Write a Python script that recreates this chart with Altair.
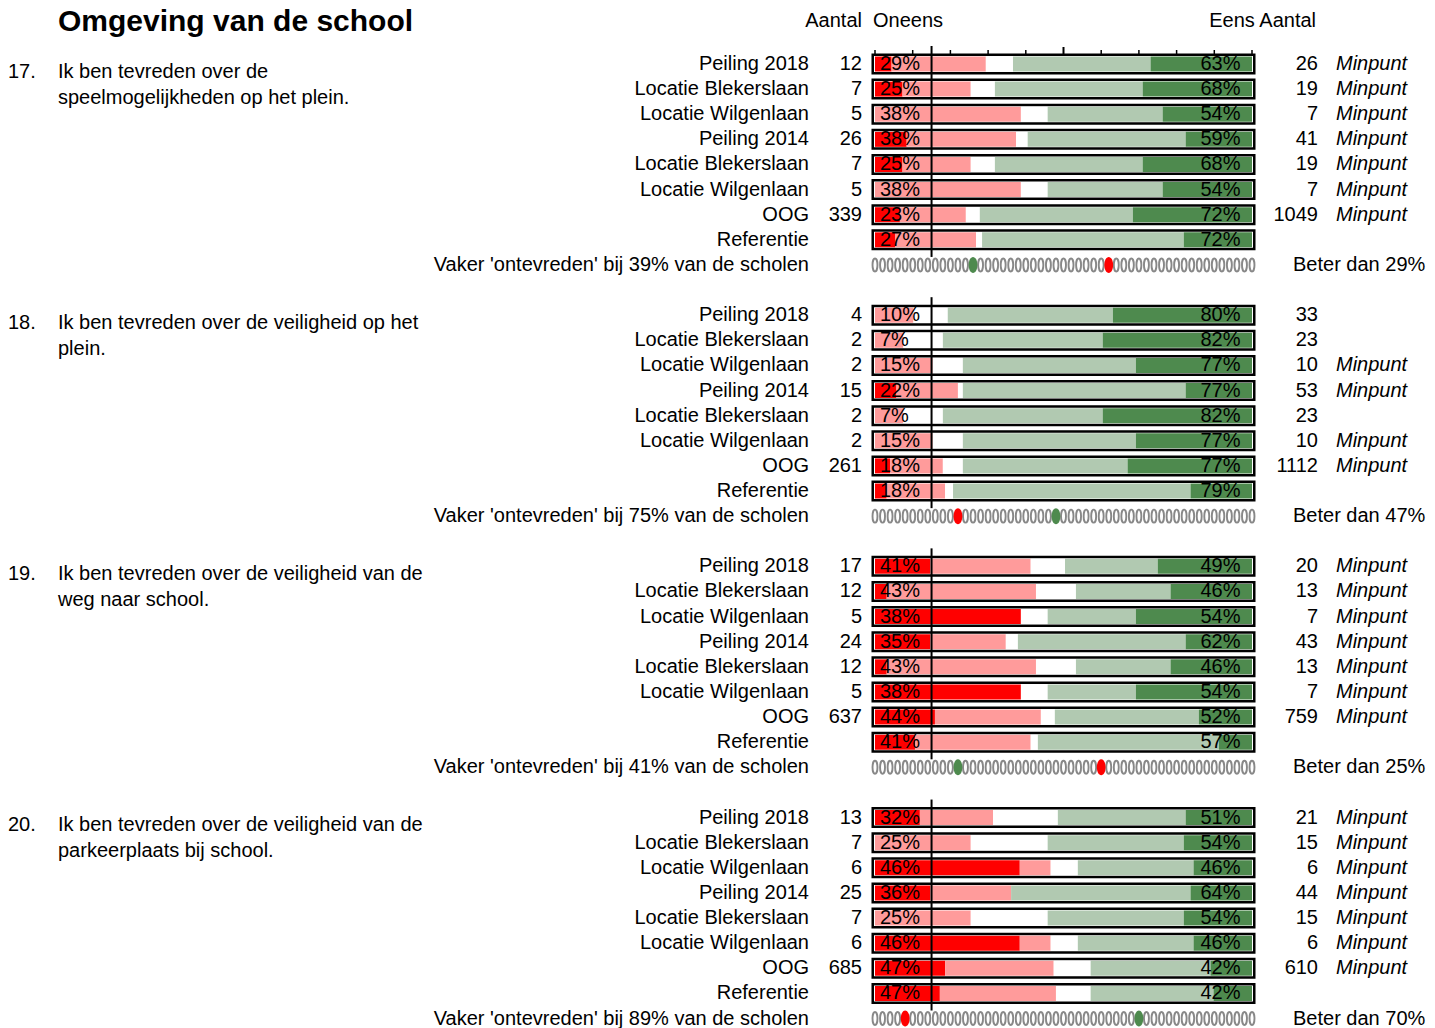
import altair as alt
import pandas as pd

# ---------------- data ----------------
title_text = "Omgeving van de school"
row_labels = ["Peiling 2018", "Locatie Blekerslaan", "Locatie Wilgenlaan", "Peiling 2014",
              "Locatie Blekerslaan", "Locatie Wilgenlaan", "OOG", "Referentie"]
question_numbers = ["17.", "18.", "19.", "20."]
question_line1 = ["Ik ben tevreden over de",
                  "Ik ben tevreden over de veiligheid op het",
                  "Ik ben tevreden over de veiligheid van de",
                  "Ik ben tevreden over de veiligheid van de"]
question_line2 = ["speelmogelijkheden op het plein.",
                  "plein.",
                  "weg naar school.",
                  "parkeerplaats bij school."]

count_oneens = [[12, 7, 5, 26, 7, 5, 339, None],
                [4, 2, 2, 15, 2, 2, 261, None],
                [17, 12, 5, 24, 12, 5, 637, None],
                [13, 7, 6, 25, 7, 6, 685, None]]
count_eens = [[26, 19, 7, 41, 19, 7, 1049, None],
              [33, 23, 10, 53, 23, 10, 1112, None],
              [20, 13, 7, 43, 13, 7, 759, None],
              [21, 15, 6, 44, 15, 6, 610, None]]
minpunt = [[1, 1, 1, 1, 1, 1, 1, 0],
           [0, 0, 1, 1, 0, 1, 1, 0],
           [1, 1, 1, 1, 1, 1, 1, 0],
           [1, 1, 1, 1, 1, 1, 1, 0]]
pct_oneens = [[29, 25, 38, 38, 25, 38, 23, 27],
              [10, 7, 15, 22, 7, 15, 18, 18],
              [41, 43, 38, 35, 43, 38, 44, 41],
              [32, 25, 46, 36, 25, 46, 47, 47]]
pct_eens = [[63, 68, 54, 59, 68, 54, 72, 72],
            [80, 82, 77, 77, 82, 77, 77, 79],
            [49, 46, 54, 62, 46, 54, 52, 57],
            [51, 54, 46, 64, 54, 46, 42, 42]]

seg_names = ["Zeer oneens", "Oneens", "Neutraal", "Eens", "Zeer eens"]
seg_colors = ["#ff0000", "#ff9b9b", "#ffffff", "#b1c9b1", "#4e8a4e"]
zeer_oneens = [[4.4, 7.3, 0, 8.4, 7.3, 0, 6.6, 5.3],
               [0, 0, 0, 5.7, 0, 0, 4.0, 3.1],
               [14.6, 3.1, 38.7, 14.6, 3.1, 38.7, 15.9, 10.6],
               [11.9, 0, 38.4, 14.6, 0, 38.4, 18.6, 17.2]]
oneens = [[25.0, 18.1, 38.7, 29.0, 18.1, 38.7, 17.5, 21.5],
          [10.2, 7.5, 15.3, 16.3, 7.5, 15.3, 14.0, 15.5],
          [26.7, 39.6, 0, 20.1, 39.6, 0, 28.1, 30.7],
          [19.4, 25.4, 8.2, 21.5, 25.4, 8.2, 28.8, 30.8]]
neutraal = [[7.2, 6.4, 7.1, 3.1, 6.4, 7.1, 3.7, 1.6],
            [9.1, 10.5, 8.0, 1.3, 10.5, 8.0, 5.3, 2.1],
            [9.1, 10.6, 7.1, 3.2, 10.6, 7.1, 3.7, 1.9],
            [17.2, 20.4, 7.2, 0, 20.4, 7.2, 9.8, 9.2]]
eens = [[36.5, 39.2, 30.5, 41.9, 39.2, 30.5, 40.6, 53.5],
        [43.8, 42.4, 45.9, 59.1, 42.4, 45.9, 43.7, 63.0],
        [24.6, 25.1, 23.4, 44.5, 25.1, 23.4, 38.2, 48.0],
        [33.9, 36.1, 30.7, 47.6, 36.1, 30.7, 31.8, 32.6]]
zeer_eens = [[26.9, 29.0, 23.7, 17.6, 29.0, 23.7, 31.6, 18.1],
             [36.9, 39.6, 30.8, 17.6, 39.6, 30.8, 33.0, 16.3],
             [25.0, 21.6, 30.8, 17.6, 21.6, 30.8, 14.1, 8.8],
             [17.6, 18.1, 15.5, 16.3, 18.1, 15.5, 11.0, 10.2]]

vaker_pct = [39, 75, 41, 89]
beter_pct = [29, 47, 25, 70]
dot_red_index = [31, 11, 30, 4]
dot_green_index = [13, 24, 11, 35]
n_dots = 51
reference_line_pct = 15
tick_values = [0, 10, 20, 30, 40, 60, 70, 80, 90, 100]
major_tick_values = [50]

# ---------------- tables ----------------
ROWS_PER_PANEL = 10
rows, segs, panels, dots = [], [], [], []
seg_tables = [zeer_oneens, oneens, neutraal, eens, zeer_eens]
for p in range(4):
    g0 = p * ROWS_PER_PANEL
    panels.append(dict(g_first=g0, g_dots=g0 + 8, num=question_numbers[p],
                       line1=question_line1[p], line2=question_line2[p],
                       vaker=f"Vaker 'ontevreden' bij {vaker_pct[p]}% van de scholen",
                       beter=f"Beter dan {beter_pct[p]}%"))
    for r in range(8):
        g = g0 + r
        rows.append(dict(g=g, label=row_labels[r],
                         cl="" if count_oneens[p][r] is None else str(count_oneens[p][r]),
                         cr="" if count_eens[p][r] is None else str(count_eens[p][r]),
                         minpunt="Minpunt" if minpunt[p][r] else "",
                         pl=f"{pct_oneens[p][r]}%", pr=f"{pct_eens[p][r]}%"))
        start = 0.0
        for k, tab in enumerate(seg_tables):
            v = tab[p][r]
            end = start + v if k < 4 else 100.0
            if end > start:
                segs.append(dict(g=g, cat=seg_names[k], start=start, end=end))
            start = end
    for i in range(n_dots):
        kind = "gray"
        if i == dot_red_index[p]:
            kind = "red"
        elif i == dot_green_index[p]:
            kind = "green"
        dots.append(dict(g=g0 + 8, x=i * 100 / (n_dots - 1), kind=kind))

rows_df = pd.DataFrame(rows)
segs_df = pd.DataFrame(segs)
panels_df = pd.DataFrame(panels)
dots_df = pd.DataFrame(dots)
ticks_df = pd.DataFrame(dict(t=tick_values, g=0))
major_df = pd.DataFrame(dict(t=major_tick_values, g=0))

# ---------------- scales ----------------
W, H = 1419, 1020
xs = alt.Scale(domain=[0, 100], range=[867, 1244], nice=False, zero=False, padding=0)
ys = alt.Scale(domain=[0, 38], range=[56, 1010.5], nice=False, zero=False, padding=0)
X = lambda f: alt.X(f, scale=xs, axis=None)
Y = lambda f: alt.Y(f, scale=ys, axis=None)
FONT = "Liberation Sans"

base_rows = alt.Chart(rows_df)

outline = base_rows.mark_bar(size=18.5, fill="white", stroke="black", strokeWidth=2.5,
                             orient="horizontal").encode(
    x=alt.X(datum=-0.6, scale=xs, axis=None), x2=alt.datum(100.6), y=Y("g:Q"))

segments = alt.Chart(segs_df).mark_bar(size=15, orient="horizontal").encode(
    x=X("start:Q"), x2="end:Q", y=Y("g:Q"),
    color=alt.Color("cat:N", scale=alt.Scale(domain=seg_names, range=seg_colors), legend=None))

ref_rule = alt.Chart(panels_df).mark_rule(color="black", strokeWidth=2, yOffset=-18, y2Offset=-8).encode(
    x=alt.X(datum=reference_line_pct, scale=xs, axis=None), y=Y("g_first:Q"), y2="g_dots:Q")

ticks = alt.Chart(ticks_df).mark_rule(color="black", strokeWidth=1.5, yOffset=-14, y2Offset=-10).encode(
    x=X("t:Q"), y=Y("g:Q"), y2="g:Q")
major = alt.Chart(major_df).mark_rule(color="black", strokeWidth=2, yOffset=-17, y2Offset=-10).encode(
    x=X("t:Q"), y=Y("g:Q"), y2="g:Q")


def txt(df, field, x, align="left", **kw):
    return alt.Chart(df).mark_text(font=FONT, fontSize=20, align=align, baseline="middle",
                                   color="black", **kw).encode(
        x=alt.value(x), y=Y("g:Q"), text=f"{field}:N")


lbl = txt(rows_df, "label", 801, "right")
cl = txt(rows_df, "cl", 854, "right")
cr = txt(rows_df, "cr", 1310, "right")
mp = txt(rows_df, "minpunt", 1328, "left", fontStyle="italic")
pl = txt(rows_df, "pl", 872, "left")
pr = txt(rows_df, "pr", 1232.5, "right")

pan = alt.Chart(panels_df)
qnum = pan.mark_text(font=FONT, fontSize=20, align="left", baseline="middle", dy=7.5).encode(
    x=alt.value(0), y=Y("g_first:Q"), text="num:N")
ql1 = pan.mark_text(font=FONT, fontSize=20, align="left", baseline="middle", dy=7.5).encode(
    x=alt.value(50), y=Y("g_first:Q"), text="line1:N")
ql2 = pan.mark_text(font=FONT, fontSize=20, align="left", baseline="middle", dy=33.5).encode(
    x=alt.value(50), y=Y("g_first:Q"), text="line2:N")
vaker = pan.mark_text(font=FONT, fontSize=20, align="right", baseline="middle").encode(
    x=alt.value(801), y=Y("g_dots:Q"), text="vaker:N")
beter = pan.mark_text(font=FONT, fontSize=20, align="left", baseline="middle").encode(
    x=alt.value(1285), y=Y("g_dots:Q"), text="beter:N")

ellipse = "M0,-1A0.38,1,0,1,1,0,1A0.38,1,0,1,1,0,-1Z"
gray_dots = alt.Chart(dots_df).transform_filter("datum.kind == 'gray'").mark_point(
    shape=ellipse, size=169, filled=False, stroke="#888888", strokeWidth=1.9, opacity=1).encode(
    x=X("x:Q"), y=Y("g:Q"))
col_ellipse = "M0,-1A0.55,1,0,1,1,0,1A0.55,1,0,1,1,0,-1Z"
color_dots = alt.Chart(dots_df).transform_filter("datum.kind != 'gray'").mark_point(
    shape=col_ellipse, size=256, filled=True, opacity=1, strokeWidth=0).encode(
    x=X("x:Q"), y=Y("g:Q"),
    color=alt.Color("kind:N", scale=alt.Scale(domain=["red", "green"], range=["#ff0000", "#4e8a4e"]),
                    legend=None))

head_df = pd.DataFrame(dict(t=[title_text]))
title = alt.Chart(head_df).mark_text(font=FONT, fontSize=30, fontWeight="bold", align="left",
                                     baseline="alphabetic").encode(
    x=alt.value(50), y=alt.value(23), text="t:N")
hdr_df = pd.DataFrame(dict(a=["Aantal"], o=["Oneens"], e=["Eens Aantal"]))
h1 = alt.Chart(hdr_df).mark_text(font=FONT, fontSize=20, align="right", baseline="middle").encode(
    x=alt.value(854), y=alt.value(13), text="a:N")
h2 = alt.Chart(hdr_df).mark_text(font=FONT, fontSize=20, align="left", baseline="middle").encode(
    x=alt.value(865), y=alt.value(13), text="o:N")
h3 = alt.Chart(hdr_df).mark_text(font=FONT, fontSize=20, align="right", baseline="middle").encode(
    x=alt.value(1308), y=alt.value(13), text="e:N")

chart = alt.layer(
    outline, segments, ref_rule, ticks, major,
    lbl, cl, cr, mp, pl, pr, qnum, ql1, ql2, vaker, beter,
    gray_dots, color_dots, title, h1, h2, h3
).resolve_scale(color="independent").properties(
    width=W, height=H, padding=0, autosize=alt.AutoSizeParams(type="none")
).configure_view(stroke=None)

chart.save("out.html", embed_options={"renderer": "svg", "actions": False})
